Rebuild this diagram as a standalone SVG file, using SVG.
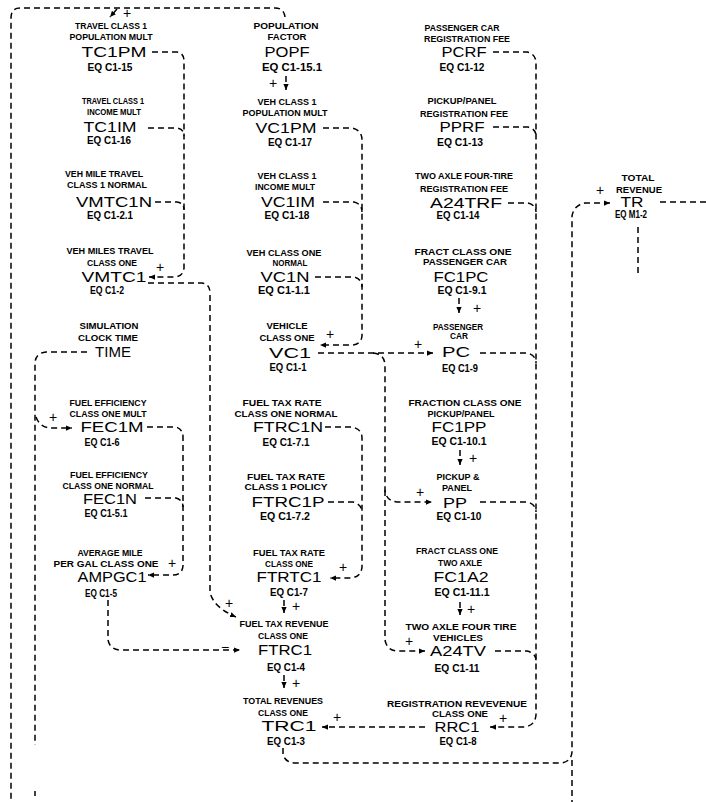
<svg xmlns="http://www.w3.org/2000/svg" width="706" height="802" viewBox="0 0 706 802">
<style>
.lb{font-family:"Liberation Sans",Arial,sans-serif;font-weight:bold;font-size:9.5px;text-anchor:middle;fill:#000}
.eq{font-family:"Liberation Sans",Arial,sans-serif;font-weight:bold;font-size:10px;text-anchor:middle;fill:#000}
.nm{font-family:"Liberation Sans",Arial,sans-serif;font-size:15px;text-anchor:middle;fill:#000}
.sg{font-family:"Liberation Sans",Arial,sans-serif;font-size:14px;text-anchor:middle;fill:#000}
.c{fill:none;stroke:#000;stroke-width:1.5;stroke-dasharray:6 4}
.a{marker-end:url(#ah)}
</style>
<defs>
<marker id="ah" viewBox="0 0 8 8" refX="8" refY="4" markerWidth="6" markerHeight="6" orient="auto" markerUnits="userSpaceOnUse">
<path d="M0,0.5 L8,4 L0,7.5 z" fill="#000" stroke="none"/>
</marker>
</defs>
<rect width="706" height="802" fill="#fff"/>
<g id="connectors">
<path class="c" d="M285,17 Q284,8 275,8 L20,8 Q11,8 11,18 L11,802"/>
<path class="c a" d="M117,9 L110,17"/>
<path class="c a" d="M152,52 L177,52 Q184,53 184,61 L184,268 Q183,277 174,277 L149,277"/>
<path class="c" d="M148,128 L177,128 Q184,129 184,136"/>
<path class="c" d="M155,202 L177,202 Q184,203 184,210"/>
<path class="c a" d="M148,283 L202,283 Q210,284 210,293 L210,592 Q213,607 236,617"/>
<path class="c" d="M87,352 L46,352 Q35,353 35,364 L35,745"/>
<path class="c" d="M35,791 L35,796"/>
<path class="c a" d="M36,417 Q40,428 52,428 L72,428"/>
<path class="c a" d="M147,427 L176,427 Q183,429 183,437 L183,566 Q182,575 173,575 L148,575"/>
<path class="c" d="M145,498 L176,498 Q183,500 183,507"/>
<path class="c a" d="M108,600 L108,640 Q110,650 121,650 L240,650"/>
<path class="c a" d="M286,76 L286,90"/>
<path class="c a" d="M323,128 L352,128 Q362,130 362,140 L362,336 Q361,345 351,345 L320,345"/>
<path class="c" d="M323,202 L354,202 Q362,204 362,212"/>
<path class="c" d="M315,277 L354,277 Q362,279 362,287"/>
<path class="c a" d="M318,353 L433,353"/>
<path class="c a" d="M373,353 Q385,354 385,366 L385,490 Q386,501 397,502 L432,502"/>
<path class="c a" d="M385,490 L385,640 Q387,651 398,651 L425,651"/>
<path class="c a" d="M493,52 L527,52 Q536,54 536,63 L536,715 Q535,726 524,727 L490,727"/>
<path class="c" d="M493,127 L528,127 Q536,129 536,136"/>
<path class="c" d="M508,203 L528,203 Q536,205 536,212"/>
<path class="c" d="M480,353 L527,353 Q536,355 536,363"/>
<path class="c" d="M480,502 L527,502 Q536,504 536,512"/>
<path class="c" d="M495,651 L527,651 Q536,653 536,661"/>
<path class="c a" d="M459,298 L459,313"/>
<path class="c a" d="M460,450 L460,465"/>
<path class="c a" d="M460,602 L460,615"/>
<path class="c a" d="M325,427 L352,427 Q362,429 362,438 L362,567 Q361,577 351,578 L330,578"/>
<path class="c" d="M328,502 L353,502 Q361,504 362,511"/>
<path class="c a" d="M284,600 L284,613"/>
<path class="c a" d="M284,675 L284,688"/>
<path class="c a" d="M425,727 L322,727"/>
<path class="c a" d="M283,748 L283,754 Q285,763 296,763 L561,763 Q571,762 572,752 L572,216 Q574,205 585,203 L610,203"/>
<path class="c" d="M572,760 L572,802"/>
<path class="c" d="M660,202 L706,202"/>
<path class="c" d="M638,227 L638,275"/>
<text class="sg" x="127" y="18">+</text>
<text class="sg" x="160" y="272">+</text>
<text class="sg" x="229" y="608">+</text>
<text class="sg" x="53" y="422">+</text>
<text class="sg" x="172" y="568">+</text>
<text class="sg" x="273" y="88">+</text>
<text class="sg" x="330" y="339">+</text>
<text class="sg" x="418" y="349">+</text>
<text class="sg" x="420" y="497">+</text>
<text class="sg" x="409" y="646">+</text>
<text class="sg" x="477" y="313">+</text>
<text class="sg" x="473" y="463">+</text>
<text class="sg" x="471" y="614">+</text>
<text class="sg" x="343" y="572">+</text>
<text class="sg" x="296" y="611">+</text>
<text class="sg" x="296" y="688">+</text>
<text class="sg" x="337" y="722">+</text>
<text class="sg" x="503" y="723">+</text>
<text class="sg" x="600" y="195">+</text>
<text class="sg" x="225" y="652">−</text>
</g>
<g id="TC1PM">
<text class="lb" x="111" y="28.5" textLength="72" lengthAdjust="spacingAndGlyphs">TRAVEL CLASS 1</text>
<text class="lb" x="111" y="39.5" textLength="83" lengthAdjust="spacingAndGlyphs">POPULATION MULT</text>
<text class="nm" x="114" y="57.4" textLength="65" lengthAdjust="spacingAndGlyphs">TC1PM</text>
<text class="eq" x="110" y="70.6" textLength="45" lengthAdjust="spacingAndGlyphs">EQ C1-15</text>
</g>
<g id="TC1IM">
<text class="lb" x="113" y="103.5" textLength="62" lengthAdjust="spacingAndGlyphs">TRAVEL CLASS 1</text>
<text class="lb" x="114" y="114.5" textLength="54" lengthAdjust="spacingAndGlyphs">INCOME MULT</text>
<text class="nm" x="110" y="132.4" textLength="53" lengthAdjust="spacingAndGlyphs">TC1IM</text>
<text class="eq" x="109" y="144.2" textLength="44" lengthAdjust="spacingAndGlyphs">EQ C1-16</text>
</g>
<g id="VMTC1N">
<text class="lb" x="104" y="176.5" textLength="78" lengthAdjust="spacingAndGlyphs">VEH MILE TRAVEL</text>
<text class="lb" x="107" y="187.5" textLength="80" lengthAdjust="spacingAndGlyphs">CLASS 1 NORMAL</text>
<text class="nm" x="114" y="207.4" textLength="76" lengthAdjust="spacingAndGlyphs">VMTC1N</text>
<text class="eq" x="110" y="219" textLength="46" lengthAdjust="spacingAndGlyphs">EQ C1-2.1</text>
</g>
<g id="VMTC1">
<text class="lb" x="110" y="253.5" textLength="87" lengthAdjust="spacingAndGlyphs">VEH MILES TRAVEL</text>
<text class="lb" x="112" y="265.5" textLength="50" lengthAdjust="spacingAndGlyphs">CLASS ONE</text>
<text class="nm" x="114" y="282.4" textLength="65" lengthAdjust="spacingAndGlyphs">VMTC1</text>
<text class="eq" x="107" y="294" textLength="34" lengthAdjust="spacingAndGlyphs">EQ C1-2</text>
</g>
<g id="TIME">
<text class="lb" x="109" y="328.5" textLength="59" lengthAdjust="spacingAndGlyphs">SIMULATION</text>
<text class="lb" x="108" y="340.5" textLength="60" lengthAdjust="spacingAndGlyphs">CLOCK TIME</text>
<text class="nm" x="113" y="357.4" textLength="36" lengthAdjust="spacingAndGlyphs">TIME</text>
</g>
<g id="FEC1M">
<text class="lb" x="108" y="405.5" textLength="77" lengthAdjust="spacingAndGlyphs">FUEL EFFICIENCY</text>
<text class="lb" x="108" y="416.5" textLength="77" lengthAdjust="spacingAndGlyphs">CLASS ONE MULT</text>
<text class="nm" x="112" y="432.4" textLength="63" lengthAdjust="spacingAndGlyphs">FEC1M</text>
<text class="eq" x="102" y="445.6" textLength="35" lengthAdjust="spacingAndGlyphs">EQ C1-6</text>
</g>
<g id="FEC1N">
<text class="lb" x="109" y="477.5" textLength="78" lengthAdjust="spacingAndGlyphs">FUEL EFFICIENCY</text>
<text class="lb" x="108" y="489" textLength="91" lengthAdjust="spacingAndGlyphs">CLASS ONE NORMAL</text>
<text class="nm" x="110" y="504.4" textLength="54" lengthAdjust="spacingAndGlyphs">FEC1N</text>
<text class="eq" x="106" y="517.2" textLength="43" lengthAdjust="spacingAndGlyphs">EQ C1-5.1</text>
</g>
<g id="AMPGC1">
<text class="lb" x="110" y="555.5" textLength="65" lengthAdjust="spacingAndGlyphs">AVERAGE MILE</text>
<text class="lb" x="106" y="566.5" textLength="105" lengthAdjust="spacingAndGlyphs">PER GAL CLASS ONE</text>
<text class="nm" x="112" y="582.4" textLength="69" lengthAdjust="spacingAndGlyphs">AMPGC1</text>
<text class="eq" x="101" y="596.6" textLength="32" lengthAdjust="spacingAndGlyphs">EQ C1-5</text>
</g>
<g id="POPF">
<text class="lb" x="286" y="28.5" textLength="65" lengthAdjust="spacingAndGlyphs">POPULATION</text>
<text class="lb" x="287" y="39.5" textLength="39" lengthAdjust="spacingAndGlyphs">FACTOR</text>
<text class="nm" x="287" y="57.4" textLength="45" lengthAdjust="spacingAndGlyphs">POPF</text>
<text class="eq" x="292" y="70.6" textLength="60" lengthAdjust="spacingAndGlyphs">EQ C1-15.1</text>
</g>
<g id="VC1PM">
<text class="lb" x="287" y="104.5" textLength="59" lengthAdjust="spacingAndGlyphs">VEH CLASS 1</text>
<text class="lb" x="285" y="115.5" textLength="85" lengthAdjust="spacingAndGlyphs">POPULATION MULT</text>
<text class="nm" x="286" y="133.4" textLength="61" lengthAdjust="spacingAndGlyphs">VC1PM</text>
<text class="eq" x="290" y="145.6" textLength="44" lengthAdjust="spacingAndGlyphs">EQ C1-17</text>
</g>
<g id="VC1IM">
<text class="lb" x="287" y="178.5" textLength="59" lengthAdjust="spacingAndGlyphs">VEH CLASS 1</text>
<text class="lb" x="285" y="189.5" textLength="60" lengthAdjust="spacingAndGlyphs">INCOME MULT</text>
<text class="nm" x="288" y="207.4" textLength="54" lengthAdjust="spacingAndGlyphs">VC1IM</text>
<text class="eq" x="287" y="219" textLength="45" lengthAdjust="spacingAndGlyphs">EQ C1-18</text>
</g>
<g id="VC1N">
<text class="lb" x="284" y="255.5" textLength="75" lengthAdjust="spacingAndGlyphs">VEH CLASS ONE</text>
<text class="lb" x="290" y="265.5" textLength="35" lengthAdjust="spacingAndGlyphs">NORMAL</text>
<text class="nm" x="285" y="282.4" textLength="49" lengthAdjust="spacingAndGlyphs">VC1N</text>
<text class="eq" x="284" y="294" textLength="52" lengthAdjust="spacingAndGlyphs">EQ C1-1.1</text>
</g>
<g id="VC1">
<text class="lb" x="287" y="328.5" textLength="41" lengthAdjust="spacingAndGlyphs">VEHICLE</text>
<text class="lb" x="287" y="340.5" textLength="55" lengthAdjust="spacingAndGlyphs">CLASS ONE</text>
<text class="nm" x="290" y="358.4" textLength="42" lengthAdjust="spacingAndGlyphs">VC1</text>
<text class="eq" x="288" y="370.6" textLength="37" lengthAdjust="spacingAndGlyphs">EQ C1-1</text>
</g>
<g id="FTRC1N">
<text class="lb" x="282" y="405.5" textLength="79" lengthAdjust="spacingAndGlyphs">FUEL TAX RATE</text>
<text class="lb" x="286" y="416.5" textLength="103" lengthAdjust="spacingAndGlyphs">CLASS ONE NORMAL</text>
<text class="nm" x="288" y="432.4" textLength="70" lengthAdjust="spacingAndGlyphs">FTRC1N</text>
<text class="eq" x="286" y="445.6" textLength="47" lengthAdjust="spacingAndGlyphs">EQ C1-7.1</text>
</g>
<g id="FTRC1P">
<text class="lb" x="286" y="479.5" textLength="78" lengthAdjust="spacingAndGlyphs">FUEL TAX RATE</text>
<text class="lb" x="286" y="489.5" textLength="83" lengthAdjust="spacingAndGlyphs">CLASS 1 POLICY</text>
<text class="nm" x="288" y="507.4" textLength="73" lengthAdjust="spacingAndGlyphs">FTRC1P</text>
<text class="eq" x="285" y="519.6" textLength="50" lengthAdjust="spacingAndGlyphs">EQ C1-7.2</text>
</g>
<g id="FTRTC1">
<text class="lb" x="289" y="555.5" textLength="72" lengthAdjust="spacingAndGlyphs">FUEL TAX RATE</text>
<text class="lb" x="289" y="566.5" textLength="48" lengthAdjust="spacingAndGlyphs">CLASS ONE</text>
<text class="nm" x="289" y="582.4" textLength="65" lengthAdjust="spacingAndGlyphs">FTRTC1</text>
<text class="eq" x="289" y="595.6" textLength="38" lengthAdjust="spacingAndGlyphs">EQ C1-7</text>
</g>
<g id="FTRC1">
<text class="lb" x="284" y="626.5" textLength="89" lengthAdjust="spacingAndGlyphs">FUEL TAX REVENUE</text>
<text class="lb" x="283" y="638.5" textLength="50" lengthAdjust="spacingAndGlyphs">CLASS ONE</text>
<text class="nm" x="285" y="655.4" textLength="54" lengthAdjust="spacingAndGlyphs">FTRC1</text>
<text class="eq" x="286" y="670.6" textLength="38" lengthAdjust="spacingAndGlyphs">EQ C1-4</text>
</g>
<g id="TRC1">
<text class="lb" x="283" y="703.5" textLength="80" lengthAdjust="spacingAndGlyphs">TOTAL REVENUES</text>
<text class="lb" x="283" y="715.5" textLength="50" lengthAdjust="spacingAndGlyphs">CLASS ONE</text>
<text class="nm" x="289" y="731.4" textLength="55" lengthAdjust="spacingAndGlyphs">TRC1</text>
<text class="eq" x="286" y="744.6" textLength="38" lengthAdjust="spacingAndGlyphs">EQ C1-3</text>
</g>
<g id="PCRF">
<text class="lb" x="462" y="30.5" textLength="75" lengthAdjust="spacingAndGlyphs">PASSENGER CAR</text>
<text class="lb" x="467" y="41.5" textLength="86" lengthAdjust="spacingAndGlyphs">REGISTRATION FEE</text>
<text class="nm" x="464" y="57.4" textLength="45" lengthAdjust="spacingAndGlyphs">PCRF</text>
<text class="eq" x="462" y="70.6" textLength="45" lengthAdjust="spacingAndGlyphs">EQ C1-12</text>
</g>
<g id="PPRF">
<text class="lb" x="462" y="103.5" textLength="69" lengthAdjust="spacingAndGlyphs">PICKUP/PANEL</text>
<text class="lb" x="464" y="116.5" textLength="88" lengthAdjust="spacingAndGlyphs">REGISTRATION FEE</text>
<text class="nm" x="462" y="132.4" textLength="45" lengthAdjust="spacingAndGlyphs">PPRF</text>
<text class="eq" x="460" y="145.6" textLength="46" lengthAdjust="spacingAndGlyphs">EQ C1-13</text>
</g>
<g id="A24TRF">
<text class="lb" x="464" y="178.5" textLength="98" lengthAdjust="spacingAndGlyphs">TWO AXLE FOUR-TIRE</text>
<text class="lb" x="464" y="191.5" textLength="88" lengthAdjust="spacingAndGlyphs">REGISTRATION FEE</text>
<text class="nm" x="466" y="208.4" textLength="72" lengthAdjust="spacingAndGlyphs">A24TRF</text>
<text class="eq" x="458" y="219" textLength="43" lengthAdjust="spacingAndGlyphs">EQ C1-14</text>
</g>
<g id="FC1PC">
<text class="lb" x="463" y="254.5" textLength="97" lengthAdjust="spacingAndGlyphs">FRACT CLASS ONE</text>
<text class="lb" x="465" y="264.5" textLength="84" lengthAdjust="spacingAndGlyphs">PASSENGER CAR</text>
<text class="nm" x="461" y="282.4" textLength="55" lengthAdjust="spacingAndGlyphs">FC1PC</text>
<text class="eq" x="462" y="294" textLength="49" lengthAdjust="spacingAndGlyphs">EQ C1-9.1</text>
</g>
<g id="PC">
<text class="lb" x="458" y="329.5" textLength="50" lengthAdjust="spacingAndGlyphs">PASSENGER</text>
<text class="lb" x="459" y="339" textLength="18" lengthAdjust="spacingAndGlyphs">CAR</text>
<text class="nm" x="456" y="357.4" textLength="28" lengthAdjust="spacingAndGlyphs">PC</text>
<text class="eq" x="460" y="371.6" textLength="36" lengthAdjust="spacingAndGlyphs">EQ C1-9</text>
</g>
<g id="FC1PP">
<text class="lb" x="465" y="405.5" textLength="113" lengthAdjust="spacingAndGlyphs">FRACTION CLASS ONE</text>
<text class="lb" x="461" y="416.5" textLength="67" lengthAdjust="spacingAndGlyphs">PICKUP/PANEL</text>
<text class="nm" x="459" y="432.4" textLength="55" lengthAdjust="spacingAndGlyphs">FC1PP</text>
<text class="eq" x="459" y="444.8" textLength="55" lengthAdjust="spacingAndGlyphs">EQ C1-10.1</text>
</g>
<g id="PP">
<text class="lb" x="458" y="479.5" textLength="43" lengthAdjust="spacingAndGlyphs">PICKUP &amp;</text>
<text class="lb" x="457" y="490.5" textLength="30" lengthAdjust="spacingAndGlyphs">PANEL</text>
<text class="nm" x="455" y="508.4" textLength="24" lengthAdjust="spacingAndGlyphs">PP</text>
<text class="eq" x="459" y="519.6" textLength="45" lengthAdjust="spacingAndGlyphs">EQ C1-10</text>
</g>
<g id="FC1A2">
<text class="lb" x="457" y="553.5" textLength="82" lengthAdjust="spacingAndGlyphs">FRACT CLASS ONE</text>
<text class="lb" x="460" y="565.5" textLength="44" lengthAdjust="spacingAndGlyphs">TWO AXLE</text>
<text class="nm" x="461" y="582.4" textLength="55" lengthAdjust="spacingAndGlyphs">FC1A2</text>
<text class="eq" x="462" y="595.6" textLength="55" lengthAdjust="spacingAndGlyphs">EQ C1-11.1</text>
</g>
<g id="A24TV">
<text class="lb" x="461" y="629.5" textLength="111" lengthAdjust="spacingAndGlyphs">TWO AXLE FOUR TIRE</text>
<text class="lb" x="458" y="640.5" textLength="50" lengthAdjust="spacingAndGlyphs">VEHICLES</text>
<text class="nm" x="458" y="656.4" textLength="56" lengthAdjust="spacingAndGlyphs">A24TV</text>
<text class="eq" x="457" y="671.6" textLength="45" lengthAdjust="spacingAndGlyphs">EQ C1-11</text>
</g>
<g id="RRC1">
<text class="lb" x="457" y="706.5" textLength="140" lengthAdjust="spacingAndGlyphs">REGISTRATION REVEVENUE</text>
<text class="lb" x="460" y="716.5" textLength="56" lengthAdjust="spacingAndGlyphs">CLASS ONE</text>
<text class="nm" x="457" y="732.4" textLength="45" lengthAdjust="spacingAndGlyphs">RRC1</text>
<text class="eq" x="458" y="744.6" textLength="37" lengthAdjust="spacingAndGlyphs">EQ C1-8</text>
</g>
<g id="TR">
<text class="lb" x="638" y="180.5" textLength="33" lengthAdjust="spacingAndGlyphs">TOTAL</text>
<text class="lb" x="639" y="192.5" textLength="46" lengthAdjust="spacingAndGlyphs">REVENUE</text>
<text class="nm" x="632" y="207.4" textLength="23" lengthAdjust="spacingAndGlyphs">TR</text>
<text class="eq" x="631" y="218" textLength="32" lengthAdjust="spacingAndGlyphs">EQ M1-2</text>
</g>
</svg>
